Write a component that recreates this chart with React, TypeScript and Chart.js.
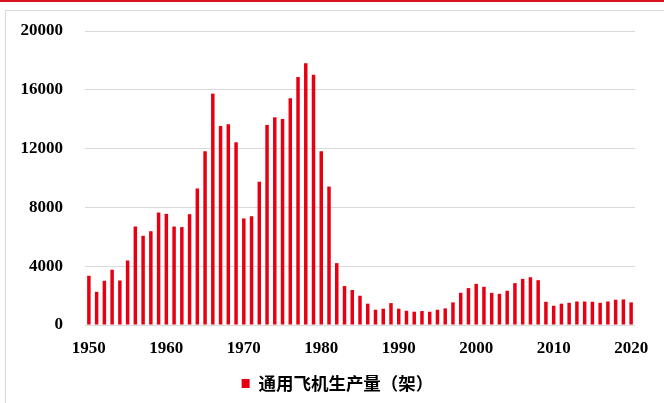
import React, { useEffect, useRef } from "react";
import { Chart, registerables } from "chart.js";

Chart.register(...registerables);

const years: string[] = [
  "1950","1951","1952","1953","1954","1955","1956","1957","1958","1959",
  "1960","1961","1962","1963","1964","1965","1966","1967","1968","1969",
  "1970","1971","1972","1973","1974","1975","1976","1977","1978","1979",
  "1980","1981","1982","1983","1984","1985","1986","1987","1988","1989",
  "1990","1991","1992","1993","1994","1995","1996","1997","1998","1999",
  "2000","2001","2002","2003","2004","2005","2006","2007","2008","2009",
  "2010","2011","2012","2013","2014","2015","2016","2017","2018","2019",
  "2020",
];

const production: number[] = [
  3350, 2260, 3010, 3760, 3030, 4390, 6700, 6070, 6380, 7650,
  7560, 6700, 6660, 7540, 9280, 11820, 15740, 13540, 13650, 12430,
  7250, 7400, 9740, 13610, 14130, 14010, 15420, 16870, 17800, 17030,
  11820, 9420, 4210, 2650, 2380, 1990, 1450, 1040, 1110, 1490,
  1110, 970, 905, 950, 904, 1040, 1130, 1540, 2190, 2510,
  2800, 2600, 2190, 2120, 2330, 2850, 3140, 3250, 3050, 1580,
  1310, 1450, 1510, 1600, 1600, 1580, 1510, 1600, 1720, 1740,
  1540,
];

const xTickLabels: string[] = ["1950","1960","1970","1980","1990","2000","2010","2020"];
const yTicks: number[] = [0, 4000, 8000, 12000, 16000, 20000];
const seriesName = "通用飞机生产量（架）";

const legendShift = {
  id: "legendShift",
  afterLayout(chart: any) {
    if (chart.legend) {
      chart.legend.left += 11;
      chart.legend.right += 11;
    }
  },
};

export default function App() {
  const ref = useRef<HTMLCanvasElement | null>(null);

  useEffect(() => {
    document.body.style.margin = "0";
    if (!ref.current) return;
    const chart = new Chart(ref.current, {
      type: "bar",
      data: {
        labels: years,
        datasets: [
          {
            label: seriesName,
            data: production,
            backgroundColor: "#e60012",
            borderWidth: 0,
            barPercentage: 0.45,
            categoryPercentage: 1,
          },
        ],
      },
      plugins: [legendShift],
      options: {
        responsive: false,
        animation: false,
        devicePixelRatio: 1,
        layout: { padding: { left: 18, right: 29, top: 31, bottom: 0.8 } },
        plugins: {
          tooltip: { enabled: false },
          legend: {
            position: "bottom",
            labels: {
              boxWidth: 8,
              boxHeight: 9,
              padding: 2.7,
              color: "#000",
              font: { family: "'Noto Sans CJK SC'", size: 17.5, weight: "bold" },
            },
          },
        },
        scales: {
          x: {
            grid: { display: false, drawTicks: false },
            border: { display: false },
            ticks: {
              autoSkip: false,
              maxRotation: 0,
              minRotation: 0,
              padding: 11,
              color: "#000",
              font: { family: "'Liberation Serif'", size: 17, weight: "bold", lineHeight: 1.47 },
              callback: (_v: any, i: number) => (xTickLabels.includes(years[i]) ? years[i] : ""),
            },
          },
          y: {
            min: yTicks[0],
            max: yTicks[yTicks.length - 1],
            afterBuildTicks: (scale: any) => {
              scale.ticks = yTicks.map((v) => ({ value: v }));
            },
            afterFit: (scale: any) => {
              scale.width = 67;
              scale.paddingTop = 0;
              scale.paddingBottom = 0;
            },
            grid: { color: "#d9d9d9", lineWidth: 1, drawTicks: false },
            border: { display: false },
            ticks: {
              padding: 22,
              color: "#000",
              font: { family: "'Liberation Serif'", size: 17, weight: "bold" },
              callback: (v: any) => String(v),
            },
          },
        },
      },
    });
    return () => chart.destroy();
  }, []);

  return (
    <div style={{ position: "fixed", left: 0, top: 0, width: 664, height: 403, background: "#fff" }}>
      <div style={{ position: "absolute", left: 0, top: 0, width: 664, height: 2, background: "#d7141f" }} />
      <div style={{ position: "absolute", left: 5, top: 10, width: 659, height: 1, background: "#d9d9d9" }} />
      <div style={{ position: "absolute", left: 5, top: 10, width: 1, height: 393, background: "#d9d9d9" }} />
      <canvas ref={ref} width={664} height={403} style={{ position: "absolute", left: 0, top: 0 }} />
    </div>
  );
}
